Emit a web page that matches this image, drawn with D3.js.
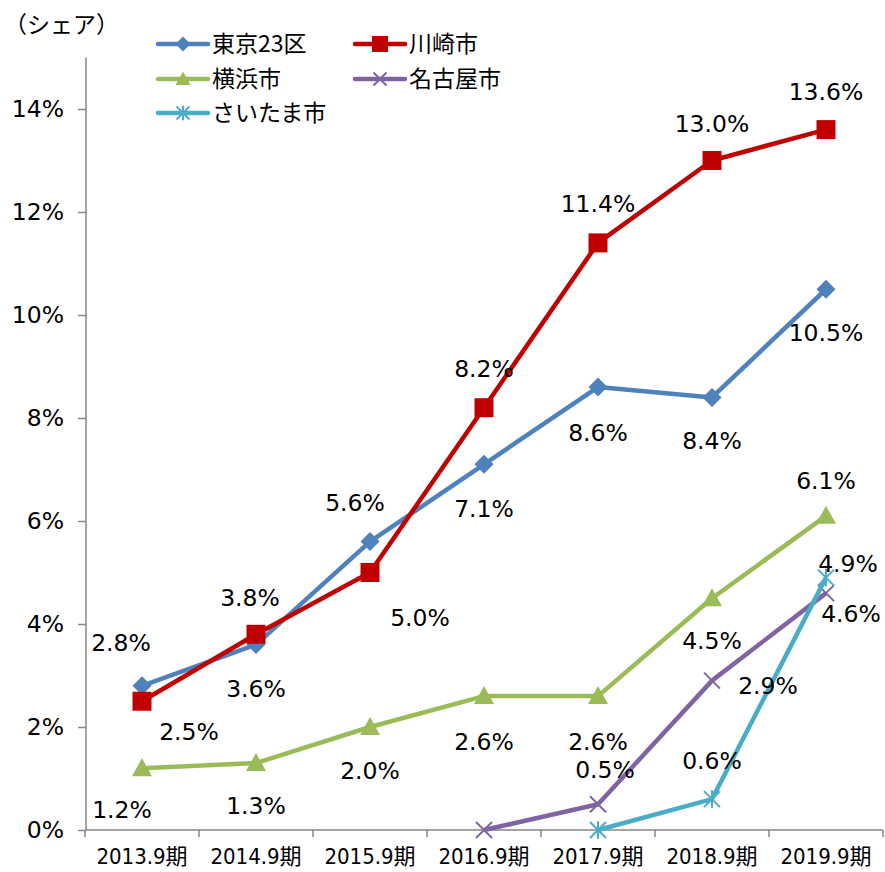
<!DOCTYPE html>
<meta charset="utf-8">
<style>
body { margin: 0; background: #fff; }
svg text { font-family: 'DejaVu Sans', 'Noto Sans CJK JP', sans-serif; fill: #000; }
.axis .domain, .axis line { stroke: #868686; stroke-width: 1.5; }
.xaxis text { font-family: 'DejaVu Sans Condensed', 'DejaVu Sans', 'Noto Sans CJK JP', sans-serif; }
</style>
<svg width="885" height="872"></svg>
<script src="https://d3js.org/d3.v7.min.js"></script>
<script>
// periods on the x axis
var periods = ["2013.9期", "2014.9期", "2015.9期", "2016.9期", "2017.9期", "2018.9期", "2019.9期"];

// share per city (%), null = no data
var tokyo23    = [2.8, 3.6, 5.6, 7.1, 8.6, 8.4, 10.5];
var kawasaki   = [2.5, 3.8, 5.0, 8.2, 11.4, 13.0, 13.6];
var yokohama   = [1.2, 1.3, 2.0, 2.6, 2.6, 4.5, 6.1];
var nagoya     = [null, null, null, 0.0, 0.5, 2.9, 4.6];
var saitama    = [null, null, null, null, 0.0, 0.6, 4.9];

var seriesNames = ["東京23区", "川崎市", "横浜市", "名古屋市", "さいたま市"];
var yTicks = [0, 2, 4, 6, 8, 10, 12, 14];

// where each data label sits relative to its point
var labelOffsets = [
  [[-21, -43], [0, 44], [-15, -39], [0, 44], [0, 45], [0, 43], [0, 43]],
  [[47, 30], [-6, -37], [50, 45], [0, -39], [0, -39], [0, -37], [0, -38]],
  [[-20, 41], [0, 42], [0, 44], [0, 45], [0, 45], [0, 42], [0, -35]],
  [null, null, null, null, [7, -35], [56, 5], [25, 20]],
  [null, null, null, null, null, [0, -39], [22, -14]]
];
var colors = ["#4F81BD", "#C00000", "#9BBB59", "#8064A2", "#4BACC6"];
var markers = ["diamond", "square", "triangle", "x", "star"];

var svg = d3.select("svg");

var x = d3.scaleBand().domain(periods).range([85, 883]);
var y = d3.scaleLinear().domain([0, 15]).range([830, 57.5]);

// y axis
var yAxis = svg.append("g")
    .attr("class", "axis")
    .attr("transform", "translate(86,0)")
    .call(d3.axisLeft(y).tickValues(yTicks).tickSize(8).tickPadding(14)
      .tickFormat(function(d) { return d + "%"; }));
yAxis.select(".domain").attr("d", "M0," + y(15) + "V" + y(0));
yAxis.selectAll("text").attr("font-size", 23.5);

// x axis: labels centered, ticks between categories
var xAxis = svg.append("g")
    .attr("class", "axis xaxis")
    .attr("transform", "translate(0,830)")
    .call(d3.axisBottom(x).tickSize(0).tickPadding(18));
xAxis.select(".domain").attr("d", "M85,0H883");
xAxis.selectAll("text").attr("font-size", 22);
xAxis.selectAll(".bound")
    .data(periods.map(function(p) { return x(p); }).concat([x.range()[1]]))
    .enter().append("line")
      .attr("class", "bound")
      .attr("x1", function(d) { return d; })
      .attr("x2", function(d) { return d; })
      .attr("y1", 0).attr("y2", 7);

// marker shapes
function markerPath(type, s) {
  var h = s / 2;
  if (type == "diamond") return "M0," + (-h) + "L" + h + ",0L0," + h + "L" + (-h) + ",0Z";
  if (type == "square") return "M" + (-h) + "," + (-h) + "H" + h + "V" + h + "H" + (-h) + "Z";
  if (type == "triangle") return "M0," + (-h) + "L" + h + "," + (h * 0.8) + "H" + (-h) + "Z";
  if (type == "x") return "M" + (-h) + "," + (-h) + "L" + h + "," + h + "M" + h + "," + (-h) + "L" + (-h) + "," + h;
  // asterisk
  return "M" + (-h) + "," + (-h) + "L" + h + "," + h + "M" + h + "," + (-h) + "L" + (-h) + "," + h +
         "M0," + (-h * 1.1) + "V" + (h * 1.1);
}
var markerSize = { diamond: 19, square: 19, triangle: 20, x: 16, star: 16 };

var allSeries = [tokyo23, kawasaki, yokohama, nagoya, saitama];

var line = d3.line()
    .defined(function(d) { return d.v != null; })
    .x(function(d) { return x(d.p) + x.bandwidth() / 2; })
    .y(function(d) { return y(d.v); });

allSeries.forEach(function(vals, si) {
  var pts = vals.map(function(v, i) { return { p: periods[i], v: v, i: i }; });
  var g = svg.append("g");
  g.append("path")
    .attr("d", line(pts))
    .attr("fill", "none")
    .attr("stroke", colors[si])
    .attr("stroke-width", 4.5)
    .attr("stroke-linejoin", "round");
  var stroked = markers[si] == "x" || markers[si] == "star";
  g.selectAll(".m")
    .data(pts.filter(function(d) { return d.v != null; }))
    .enter().append("path")
      .attr("transform", function(d) { return "translate(" + (x(d.p) + x.bandwidth() / 2) + "," + y(d.v) + ")"; })
      .attr("d", markerPath(markers[si], markerSize[markers[si]]))
      .attr("fill", stroked ? "none" : colors[si])
      .attr("stroke", colors[si])
      .attr("stroke-width", stroked ? 2 : 0);
});

// data labels
allSeries.forEach(function(vals, si) {
  vals.forEach(function(v, i) {
    var off = labelOffsets[si][i];
    if (v == null || off == null) return;
    svg.append("text")
      .attr("x", x(periods[i]) + x.bandwidth() / 2 + off[0])
      .attr("y", y(v) + off[1])
      .attr("dy", "0.36em")
      .attr("text-anchor", "middle")
      .attr("font-size", 23.5)
      .text(v.toFixed(1) + "%");
  });
});

// unit label
svg.append("text")
  .attr("x", 4).attr("y", 25).attr("dy", "0.35em")
  .attr("font-size", 23)
  .style("font-family", "'Noto Sans CJK JP', sans-serif")
  .text("（シェア）");

// legend
var legendPos = [[158, 44], [355, 44], [158, 79], [355, 79], [158, 113]];
var legendMarker = { diamond: 15, square: 16, triangle: 15, x: 13, star: 13 };
seriesNames.forEach(function(name, si) {
  var lg = svg.append("g").attr("transform", "translate(" + legendPos[si][0] + "," + legendPos[si][1] + ")");
  lg.append("line").attr("x1", 0).attr("x2", 50)
    .attr("stroke", colors[si]).attr("stroke-width", 4.5).attr("stroke-linecap", "round");
  var stroked = markers[si] == "x" || markers[si] == "star";
  lg.append("path")
    .attr("transform", "translate(25,0)")
    .attr("d", markerPath(markers[si], legendMarker[markers[si]]))
    .attr("fill", stroked ? "none" : colors[si])
    .attr("stroke", colors[si])
    .attr("stroke-width", stroked ? 2 : 0);
  lg.append("text")
    .attr("x", 54).attr("dy", "0.36em")
    .attr("font-size", 23)
    .style("font-family", "'Noto Sans CJK JP', sans-serif")
    .text(name);
});
</script>
